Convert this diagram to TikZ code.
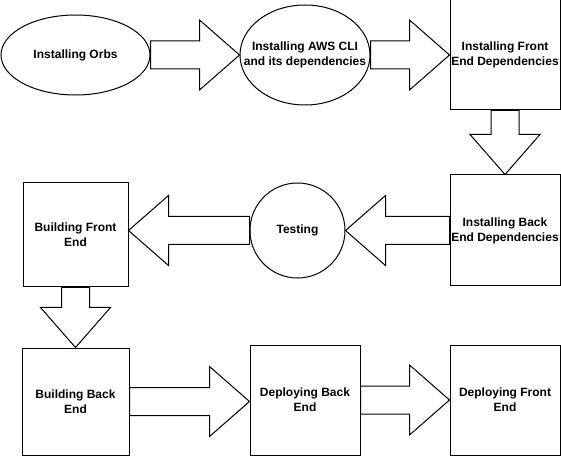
\documentclass[tikz,border=0pt]{standalone}
\usepackage{fontspec}
\setmainfont{Liberation Sans}
\usetikzlibrary{shapes.geometric,calc}
\newlength{\bashaft}\setlength{\bashaft}{10.5pt}
\newlength{\bahead}\setlength{\bahead}{26.25pt}
\newlength{\balen}\setlength{\balen}{30pt}
\newcommand{\blockarrow}[2]{%
  \coordinate (ba-s) at (#1);
  \coordinate (ba-e) at (#2);
  \coordinate (ba-h) at ($(ba-e)!\balen!(ba-s)$);
  \draw[flowarrow]
    ($(ba-s)!\bashaft!90:(ba-e)$) --
    ($(ba-h)!\bashaft!90:(ba-e)$) --
    ($(ba-h)!\bahead!90:(ba-e)$) --
    (ba-e) --
    ($(ba-h)!\bahead!-90:(ba-e)$) --
    ($(ba-h)!\bashaft!-90:(ba-e)$) --
    ($(ba-s)!\bashaft!-90:(ba-e)$) -- cycle;
}
\tikzset{
  every node/.style={font=\fontsize{9}{11.4}\selectfont\bfseries, align=center, inner sep=0pt},
  stepbox/.style={draw, line width=0.75pt, fill=white, minimum width=82.5pt, minimum height=82.5pt},
  stepoval/.style={draw, ellipse, line width=0.75pt, fill=white},
  stepcircle/.style={draw, circle, line width=0.75pt, fill=white, minimum size=71.25pt},
  flowarrow/.style={draw, fill=white, line width=0.75pt, line join=miter},
}
\begin{document}
\begin{tikzpicture}[x=0.75pt, y=-0.75pt]
\useasboundingbox (0,0) rectangle (561,456);
\node[stepoval, minimum width=111.75pt, minimum height=60pt] (orbs) at (75.5,55) {Installing Orbs};
\node[stepoval, minimum width=97.5pt, minimum height=75pt, label={center:Installing AWS CLI\\and its dependencies}] (aws) at (305,55) {};
\node[stepbox] (fed) at (505,55) {Installing Front\\End Dependencies};
\node[stepbox, minimum height=83.25pt] (bed) at (505,230.5) {Installing Back\\End Dependencies};
\node[stepcircle] (test) at (297.5,230.5) {Testing};
\node[stepbox, minimum width=78.75pt, minimum height=78pt] (bfe) at (75.5,235) {Building Front\\End};
\node[stepbox, minimum width=80.25pt, minimum height=80.25pt] (bbe) at (75.5,401.5) {Building Back\\End};
\node[stepbox] (dbe) at (305,400) {Deploying Back\\End};
\node[stepbox] (dfe) at (505,400) {Deploying Front\\End};
\blockarrow{orbs.east}{aws.west}
\blockarrow{aws.east}{fed.west}
\blockarrow{fed.south}{bed.north}
\blockarrow{bed.west}{test.east}
\blockarrow{test.west}{test.west -| bfe.east}
\blockarrow{bfe.south}{bbe.north}
\blockarrow{bbe.east}{bbe.east -| dbe.west}
\blockarrow{dbe.east}{dfe.west}
\end{tikzpicture}
\end{document}
